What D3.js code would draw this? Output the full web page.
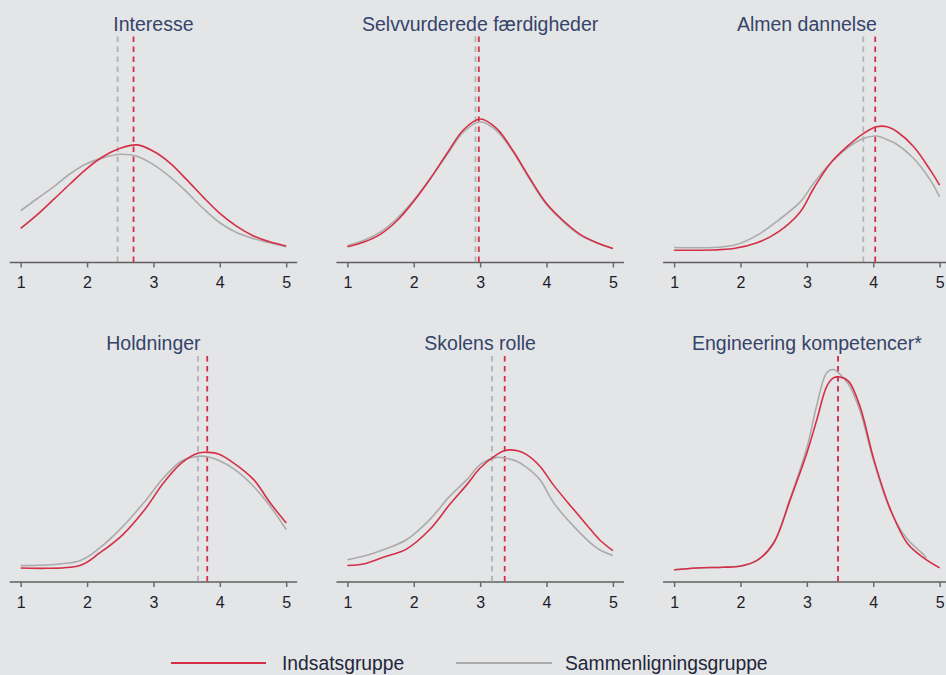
<!DOCTYPE html>
<html><head><meta charset="utf-8">
<script src="https://cdn.jsdelivr.net/npm/d3@7"></script>
<style>html,body{margin:0;padding:0;background:#e4e5e7}svg{display:block}</style>
</head><body>
<svg id="chart" width="946" height="675"></svg>
<script>
// ---- data ----
const panelTitles = ["Interesse","Selvvurderede færdigheder","Almen dannelse","Holdninger","Skolens rolle","Engineering kompetencer*"];
const xTicks = [1,2,3,4,5];
const seriesNames = ["Indsatsgruppe","Sammenligningsgruppe"];

// Interesse
const interesseX   = [1,1.25,1.5,1.75,2,2.25,2.5,2.75,3,3.25,3.5,3.75,4,4.25,4.5,4.75,5];
const interesseInd = [0.150,0.211,0.279,0.348,0.415,0.468,0.503,0.518,0.490,0.438,0.365,0.288,0.216,0.160,0.118,0.091,0.073];
const interesseSam = [0.228,0.282,0.334,0.392,0.436,0.462,0.477,0.468,0.431,0.377,0.311,0.238,0.175,0.132,0.106,0.087,0.069];
// Selvvurderede færdigheder
const selvX   = [1,1.25,1.5,1.75,2,2.25,2.5,2.75,3,3.25,3.5,3.75,4,4.25,4.5,4.75,5];
const selvInd = [0.069,0.090,0.125,0.185,0.270,0.370,0.480,0.585,0.632,0.590,0.490,0.370,0.260,0.185,0.125,0.088,0.062];
const selvSam = [0.075,0.098,0.135,0.195,0.275,0.370,0.475,0.575,0.620,0.580,0.485,0.365,0.255,0.180,0.122,0.087,0.062];
// Almen dannelse
const almenX   = [1,1.9,2.25,2.57,2.9,3.1,3.35,3.6,3.85,4.05,4.21,4.36,4.61,4.86,5];
const almenInd = [0.054,0.062,0.087,0.135,0.223,0.325,0.435,0.509,0.568,0.598,0.598,0.576,0.510,0.407,0.341];
const almenSam = [0.066,0.076,0.120,0.186,0.267,0.348,0.436,0.502,0.546,0.557,0.541,0.520,0.458,0.363,0.289];
// Holdninger
const holdX   = [1,1.89,2.19,2.54,2.87,3.15,3.42,3.68,3.83,3.98,4.21,4.51,4.76,5];
const holdInd = [0.062,0.073,0.128,0.209,0.319,0.436,0.524,0.568,0.571,0.564,0.524,0.451,0.348,0.260];
const holdSam = [0.072,0.094,0.150,0.245,0.355,0.458,0.532,0.554,0.551,0.536,0.498,0.421,0.333,0.231];
// Skolens rolle
const skoleX   = [1,1.24,1.54,1.89,2.24,2.54,2.8,3,3.25,3.37,3.55,3.7,3.9,4.1,4.41,4.71,4.81,5];
const skoleInd = [0.073,0.079,0.109,0.145,0.231,0.341,0.429,0.502,0.561,0.579,0.579,0.561,0.510,0.429,0.319,0.215,0.183,0.138];
const skoleSam = [0.098,0.113,0.142,0.186,0.275,0.377,0.451,0.517,0.549,0.546,0.532,0.505,0.451,0.352,0.245,0.160,0.140,0.117];
// Engineering kompetencer
const engX      = [1,1.34,1.74,1.99,2.25,2.5,2.75,3,3.15,3.3,3.4,3.5,3.63,3.8,4.01,4.26,4.51,4.76,5];
const engInd    = [0.054,0.062,0.065,0.069,0.095,0.172,0.363,0.568,0.715,0.862,0.899,0.903,0.884,0.774,0.539,0.319,0.172,0.106,0.062];
const engSamX   = [1,1.34,1.74,1.99,2.25,2.5,2.75,3,3.15,3.3,3.4,3.5,3.63,3.8,4.01,4.26,4.51,4.76,4.8];
const engSam    = [0.054,0.062,0.065,0.069,0.095,0.172,0.370,0.590,0.780,0.922,0.936,0.915,0.870,0.755,0.530,0.315,0.190,0.120,0.105];

// group means (dashed lines)
const meanInd = [2.70,2.98,4.03,3.81,3.37,3.47];
const meanSam = [2.46,2.93,3.85,3.67,3.18,3.47];

// ---- assemble ----
const panels = [
  {xi:interesseX, yi:interesseInd, xs:interesseX, ys:interesseSam},
  {xi:selvX, yi:selvInd, xs:selvX, ys:selvSam},
  {xi:almenX, yi:almenInd, xs:almenX, ys:almenSam},
  {xi:holdX, yi:holdInd, xs:holdX, ys:holdSam},
  {xi:skoleX, yi:skoleInd, xs:skoleX, ys:skoleSam},
  {xi:engX, yi:engInd, xs:engSamX, ys:engSam}
].map((p,i)=>({...p, title:panelTitles[i], mi:meanInd[i], ms:meanSam[i]}));

const RED = "#d42f46", GRAY = "#ababab";
const colLeft = [20.7, 347.4, 674.1], colW = 265.5;
const rowAxis = [262.5, 582], plotH = 227;

const svg = d3.select("#chart");
svg.append("rect").attr("width",946).attr("height",675).attr("fill","#e4e5e7");

panels.forEach((p,i)=>{
  const c = i%3, r = Math.floor(i/3);
  const x = d3.scaleLinear().domain([1,5]).range([colLeft[c], colLeft[c]+colW]);
  const y = d3.scaleLinear().domain([0,1]).range([rowAxis[r], rowAxis[r]-plotH]);
  const g = svg.append("g");

  // axis
  g.append("line").attr("x1",x(1)-11).attr("x2",x(5)+11)
    .attr("y1",rowAxis[r]).attr("y2",rowAxis[r])
    .attr("stroke","#5f5f5f").attr("stroke-width",1.5);
  const ax = g.append("g").attr("transform",`translate(0,${rowAxis[r]})`)
    .call(d3.axisBottom(x).tickValues(xTicks).tickSize(5).tickFormat(d3.format("d")));
  ax.select(".domain").remove();
  ax.selectAll(".tick line").attr("stroke","#6a6a6a").attr("stroke-width",1.5);
  ax.selectAll(".tick text").attr("dy",null).attr("y",25.8)
    .attr("fill","#1d1d2b").attr("font-family","Liberation Sans, Arial, sans-serif")
    .attr("font-size","16px");

  // title
  g.append("text").attr("x",(x(1)+x(5))/2).attr("y",rowAxis[r]-231.8)
    .attr("text-anchor","middle").attr("font-family","Liberation Sans, Arial, sans-serif")
    .attr("font-size","19.5px").attr("fill","#34446a").text(p.title);

  // mean lines
  [[p.ms,GRAY],[p.mi,RED]].forEach(([m,col])=>{
    g.append("line").attr("x1",x(m)).attr("x2",x(m))
      .attr("y1",rowAxis[r]-226).attr("y2",rowAxis[r])
      .attr("stroke",col).attr("stroke-width",1.8).attr("stroke-dasharray","5.5,4.5")
      .attr("opacity", col===GRAY?0.85:1);
  });

  const line = d3.line().curve(d3.curveCatmullRom.alpha(0.5));
  g.append("path").attr("d",line(p.xs.map((v,k)=>[x(v),y(p.ys[k])])))
    .attr("fill","none").attr("stroke",GRAY).attr("stroke-width",1.6);
  g.append("path").attr("d",line(p.xi.map((v,k)=>[x(v),y(p.yi[k])])))
    .attr("fill","none").attr("stroke",RED).attr("stroke-width",1.6);
});

// legend
const leg = svg.append("g");
[[171,266,282,RED,seriesNames[0]],[456,552,565,GRAY,seriesNames[1]]].forEach(([a,b,t,col,name])=>{
  leg.append("line").attr("x1",a).attr("x2",b).attr("y1",663).attr("y2",663)
    .attr("stroke",col).attr("stroke-width",2);
  leg.append("text").attr("x",t).attr("y",669.6).attr("font-family","Liberation Sans, Arial, sans-serif")
    .attr("font-size","19.3px").attr("fill","#22263a").text(name);
});
</script>
</body></html>
